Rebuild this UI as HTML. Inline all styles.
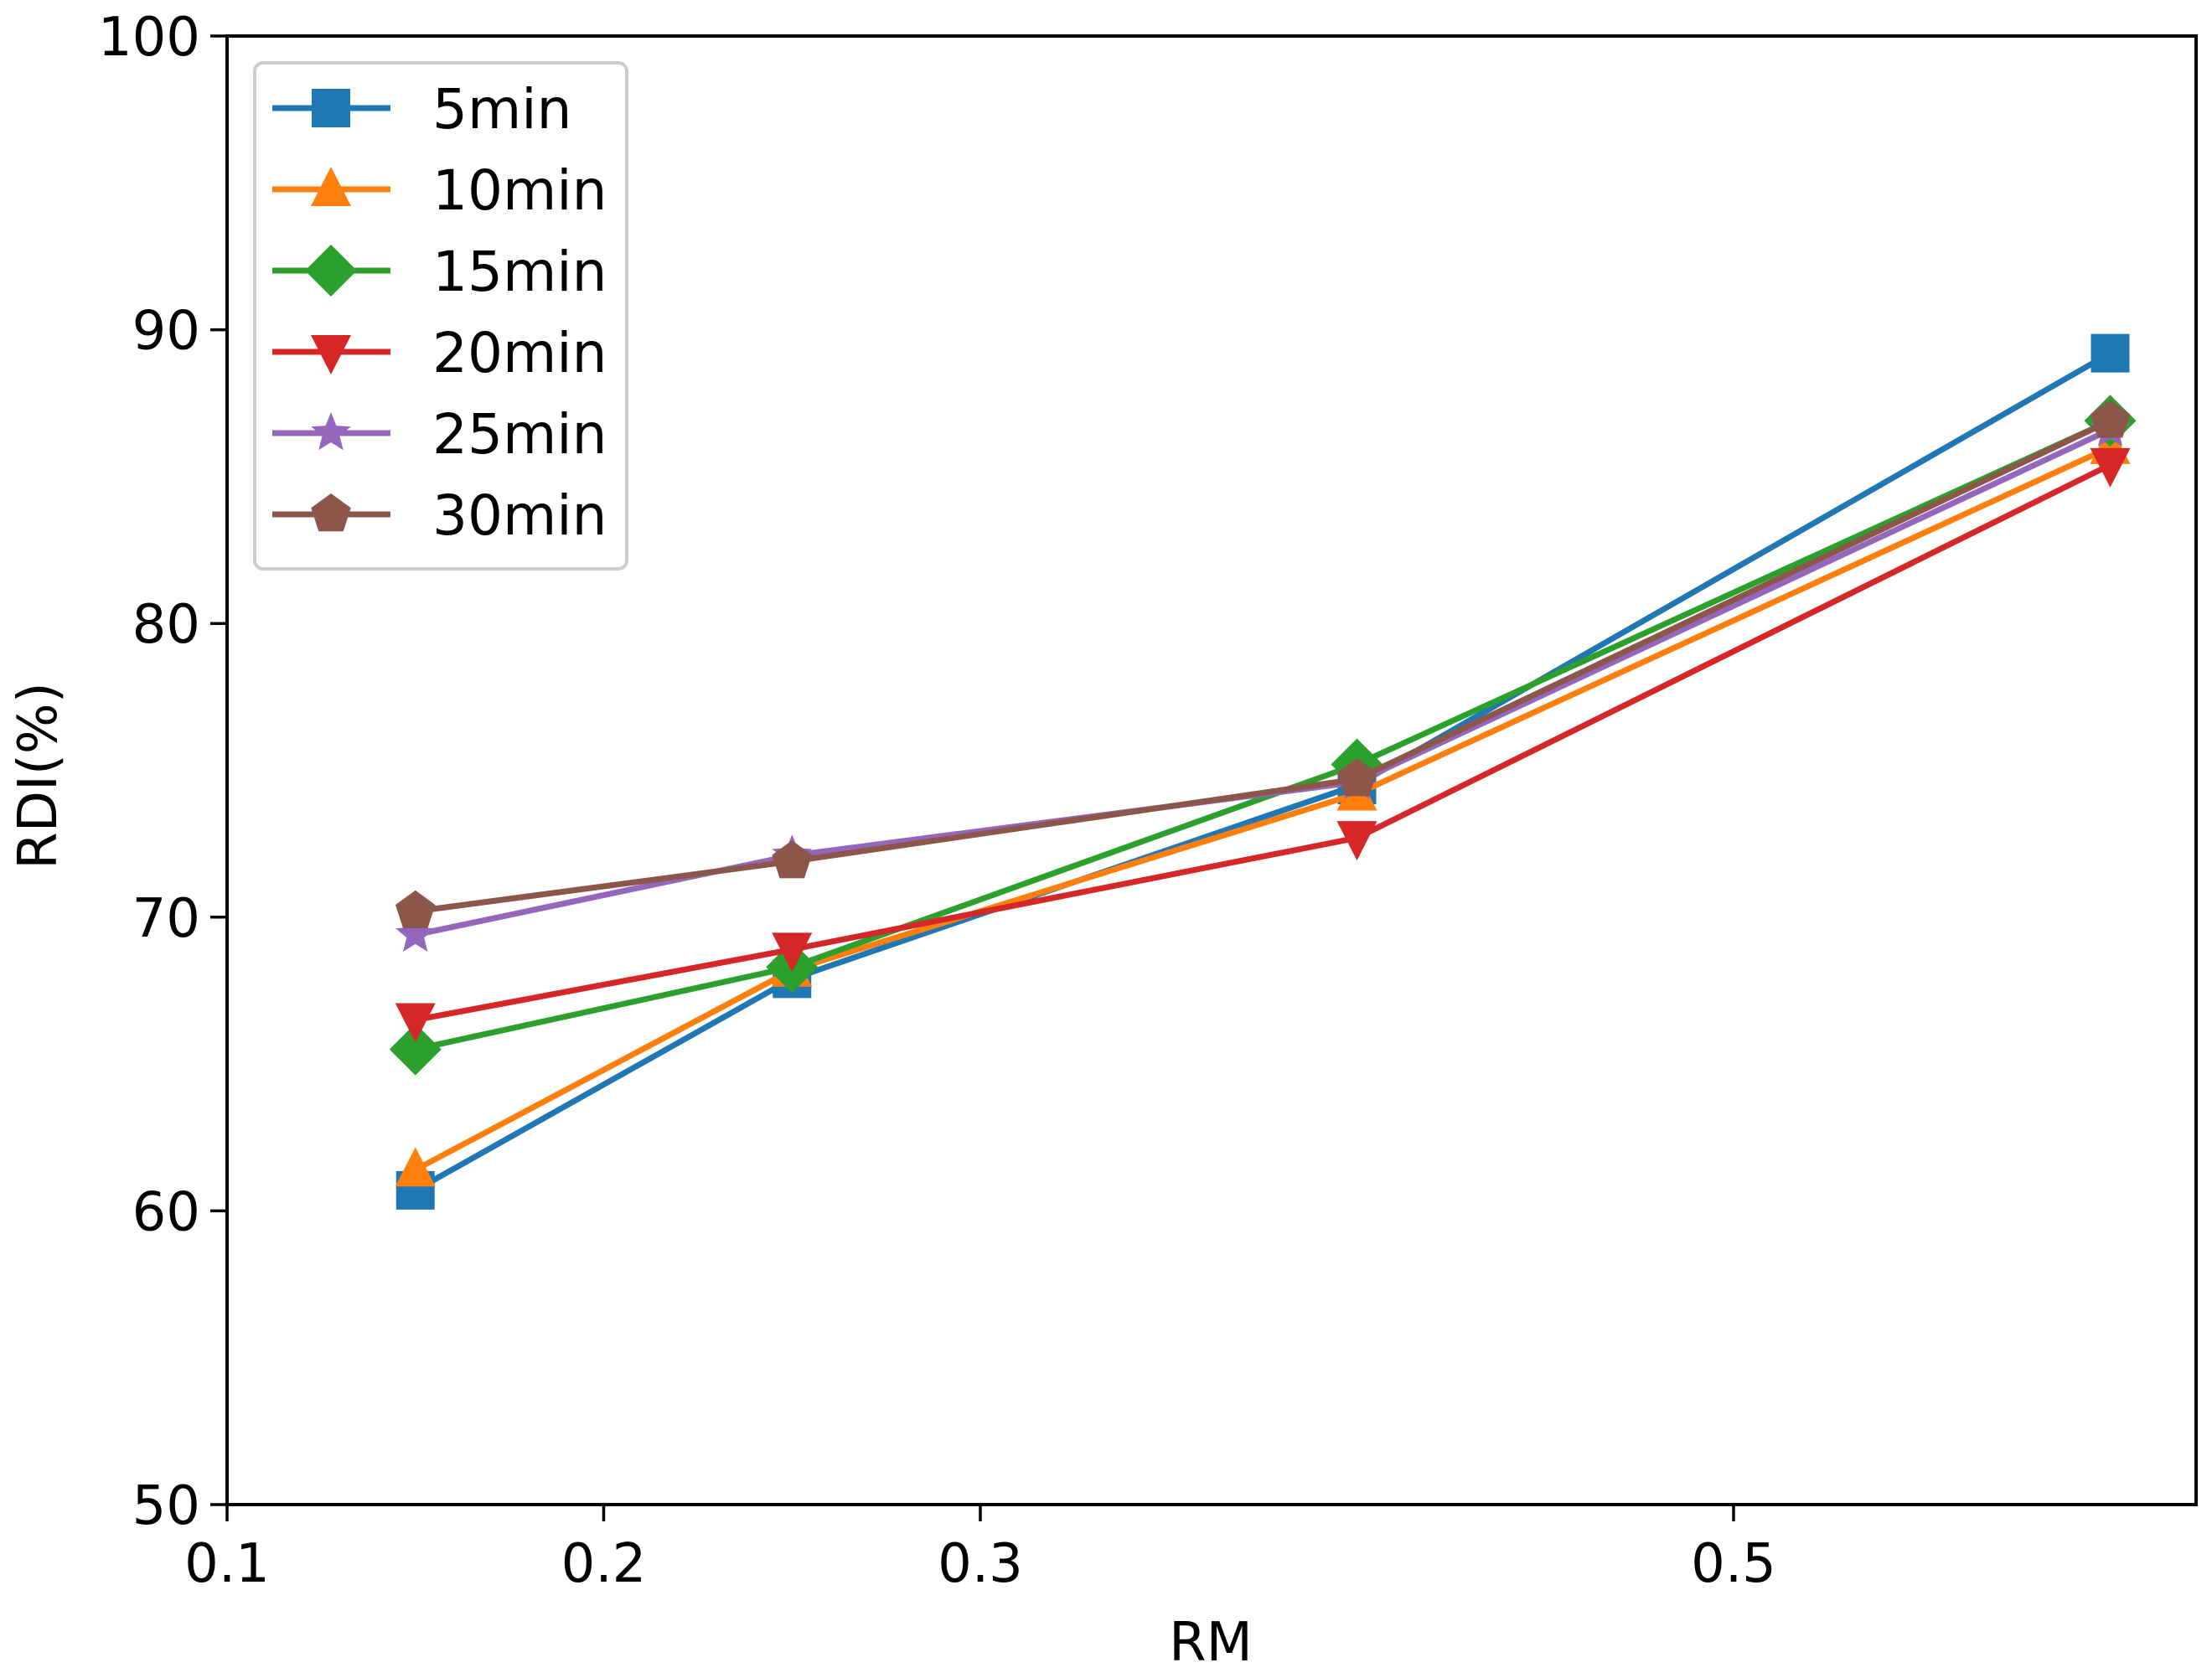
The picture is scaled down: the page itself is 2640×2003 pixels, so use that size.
<!DOCTYPE html>
<html><head><meta charset="utf-8"><style>
body{margin:0;background:#fff;}
svg text{font-family:"DejaVu Sans","Liberation Sans",sans-serif;fill:#000;}
</style></head><body>
<svg width="2640" height="1998" viewBox="0 0 2640 1998" xmlns="http://www.w3.org/2000/svg">
<g id="plot"></g>
</svg>
<script>
const categories = [0.15, 0.25, 0.4, 0.6];
const seriesNames = ["5min","10min","15min","20min","25min","30min"];
const s5 = [60.7, 67.9, 74.5, 89.2];
const s10 = [61.4, 68.2, 74.2, 86.0];
const s15 = [65.5, 68.3, 75.2, 86.9];
const s20 = [66.5, 68.9, 72.7, 85.4];
const s25 = [69.4, 72.1, 74.6, 86.6];
const s30 = [70.2, 71.9, 74.7, 86.9];
const xTicks = [0.1, 0.2, 0.3, 0.5];
const xTickLabels = ["0.1","0.2","0.3","0.5"];
const yTicks = [50, 60, 70, 80, 90, 100];

const L=271,R=2621,T=43,B=1796;
const xMin=0.1,xMax=0.1+(R-L)/4495;
const sx=v=>L+(v-xMin)/(xMax-xMin)*(R-L);
const sy=v=>B-(v-50)/50*(B-T);
const colors=["#1f77b4","#ff7f0e","#2ca02c","#d62728","#9467bd","#8c564b"];
const markers=["square","triangle","diamond","tridown","star","pentagon"];
const allSeries=[s5,s10,s15,s20,s25,s30];
const NS="http://www.w3.org/2000/svg";
const g=document.getElementById('plot');
function mk(tag,attrs,parent){const e=document.createElementNS(NS,tag);for(const k in attrs)e.setAttribute(k,attrs[k]);(parent||g).appendChild(e);return e;}
function markerPath(type,x,y){
  const pts=[];
  if(type==="square")return `M${x-23},${y-23}h46v46h-46z`;
  if(type==="triangle")return `M${x},${y-27}L${x+24},${y+20}L${x-24},${y+20}z`;
  if(type==="tridown")return `M${x},${y+27}L${x+24},${y-20}L${x-24},${y-20}z`;
  if(type==="diamond")return `M${x},${y-31}L${x+31},${y}L${x},${y+31}L${x-31},${y}z`;
  if(type==="pentagon"){for(let i=0;i<5;i++){const a=-Math.PI/2+i*2*Math.PI/5;pts.push([x+25*Math.cos(a),y+25*Math.sin(a)]);}}
  if(type==="star"){for(let i=0;i<10;i++){const a=-Math.PI/2+i*Math.PI/5;const r=i%2?11:25;pts.push([x+r*Math.cos(a),y+r*Math.sin(a)]);}}
  return "M"+pts.map(p=>p.join(",")).join("L")+"z";
}
// axes frame
const frame=mk('rect',{x:L,y:T,width:R-L,height:B-T,fill:'none',stroke:'#000','stroke-width':4});


yTicks.forEach(v=>{
  const t=mk('line',{x1:L-20,x2:L,y1:sy(v),y2:sy(v),stroke:'#000','stroke-width':3.5});
  
  
  const tx=mk('text',{x:L-32,y:sy(v)+23,'text-anchor':'end','font-size':64});
  tx.textContent=v;
  
  
});
xTicks.forEach((v,i)=>{
  const t=mk('line',{x1:sx(v),x2:sx(v),y1:B,y2:B+20,stroke:'#000','stroke-width':3.5});
  
  
  const tx=mk('text',{x:sx(v),y:B+92,'text-anchor':'middle','font-size':64});
  tx.textContent=xTickLabels[i];
  
  
});
const xl=mk('text',{x:1445,y:1982,'text-anchor':'middle','font-size':64});xl.textContent="RM";


const yl=mk('text',{x:0,y:0,'text-anchor':'middle','font-size':64,transform:'translate(67,926) rotate(-90)'});yl.textContent="RDI(%)";


// series
allSeries.forEach((s,i)=>{
  const d=s.map((v,j)=>(j?"L":"M")+sx(categories[j])+","+sy(v)).join("");
  const p=mk('path',{d:d,fill:'none',stroke:colors[i],'stroke-width':7,'stroke-linejoin':'round'});
  
  
  s.forEach((v,j)=>{
    const m=mk('path',{d:markerPath(markers[i],sx(categories[j]),sy(v)),fill:colors[i]});
    
    
  });
});
// legend
const lg=mk('rect',{x:304,y:75,width:444,height:604,rx:10,fill:'#fff','fill-opacity':0.85,stroke:'#ccc','stroke-width':4});


seriesNames.forEach((n,i)=>{
  const y=129+i*97;
  const ln=mk('line',{x1:325,x2:466,y1:y,y2:y,stroke:colors[i],'stroke-width':7});
  
  
  const m=mk('path',{d:markerPath(markers[i],395,y),fill:colors[i]});
  
  
  const t=mk('text',{x:516,y:y+24,'font-size':66});t.textContent=n;
  
  
});
</script>
</body></html>
